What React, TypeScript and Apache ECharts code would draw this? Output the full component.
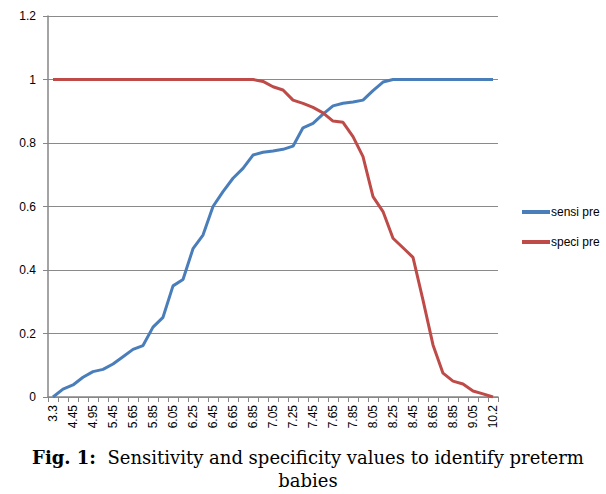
import React, { useEffect, useRef } from "react";
import * as echarts from "echarts";

const categories = [
  "3.3", "3.9", "4.45", "4.7", "4.95", "5.2", "5.45", "5.55", "5.65", "5.75",
  "5.85", "5.95", "6.05", "6.15", "6.25", "6.35", "6.45", "6.55", "6.65", "6.75",
  "6.85", "6.95", "7.05", "7.15", "7.25", "7.35", "7.45", "7.55", "7.65", "7.75",
  "7.85", "7.95", "8.05", "8.15", "8.25", "8.35", "8.45", "8.55", "8.65", "8.75",
  "8.85", "8.95", "9.05", "9.6", "10.2",
];

const sensiPre = [
  0, 0.025, 0.038, 0.062, 0.08, 0.087, 0.104, 0.127, 0.15, 0.162,
  0.22, 0.251, 0.35, 0.37, 0.467, 0.51, 0.6, 0.647, 0.689, 0.72,
  0.762, 0.771, 0.775, 0.78, 0.79, 0.848, 0.862, 0.891, 0.917, 0.925,
  0.929, 0.935, 0.965, 0.992, 1, 1, 1, 1, 1, 1,
  1, 1, 1, 1, 1,
];

const speciPre = [
  1, 1, 1, 1, 1, 1, 1, 1, 1, 1,
  1, 1, 1, 1, 1, 1, 1, 1, 1, 1,
  1, 0.994, 0.977, 0.967, 0.935, 0.925, 0.912, 0.895, 0.869, 0.865,
  0.82, 0.757, 0.631, 0.584, 0.5, 0.47, 0.44, 0.305, 0.164, 0.075,
  0.05, 0.041, 0.019, 0.01, 0,
];

const yTicks = [0, 0.2, 0.4, 0.6, 0.8, 1, 1.2];

export default function App() {
  const ref = useRef<HTMLDivElement>(null);
  useEffect(() => {
    if (!ref.current) return;
    const chart = echarts.init(ref.current, undefined, { renderer: "svg" });
    const axisColor = "#868686";
    chart.setOption({
      animation: false,
      backgroundColor: "#ffffff",
      title: {
        text: "{b|Fig. 1:}  Sensitivity and specificity values to identify preterm\nbabies",
        left: 308,
        top: 446,
        textAlign: "center",
        padding: 0,
        textStyle: {
          fontFamily: "DejaVu Serif",
          fontSize: 18,
          fontWeight: "normal",
          color: "#000",
          lineHeight: 23,
          rich: {
            b: { fontFamily: "DejaVu Serif", fontSize: 18, fontWeight: "bold", color: "#000", lineHeight: 23 },
          },
        },
      },
      legend: {
        orient: "vertical",
        left: 517,
        top: 201,
        itemWidth: 28,
        itemHeight: 4,
        itemGap: 18,
        icon: "rect",
        data: ["sensi pre", "speci pre"],
        textStyle: { fontFamily: "Liberation Sans Narrow, Liberation Sans", fontSize: 12, color: "#000", padding: [0, 0, 0, -4] },
      },
      grid: { left: 48, right: 108, top: 16, bottom: 97 },
      xAxis: {
        type: "category",
        data: categories,
        boundaryGap: true,
        axisLine: { lineStyle: { color: axisColor, width: 1.5 } },
        axisTick: { show: true, interval: 0, length: 5, lineStyle: { color: axisColor } },
        axisLabel: {
          interval: 1,
          rotate: 90,
          fontFamily: "Liberation Sans",
          fontSize: 12,
          color: "#000",
          margin: 8,
        },
      },
      yAxis: {
        type: "value",
        min: 0,
        max: 1.2,
        interval: 0.2,
        axisLine: { show: true, lineStyle: { color: axisColor, width: 1.5 } },
        axisTick: { show: true, length: 5, lineStyle: { color: axisColor } },
        splitLine: { lineStyle: { color: "#8a8a8a", width: 1 } },
        axisLabel: {
          fontFamily: "Liberation Sans",
          fontSize: 12,
          color: "#000",
          margin: 12,
          formatter: (v: number) => {
            const t = yTicks.find((x) => Math.abs(x - v) < 1e-9);
            return t === undefined ? "" : String(t);
          },
        },
      },
      series: [
        {
          name: "sensi pre",
          type: "line",
          data: sensiPre,
          symbol: "none",
          lineStyle: { color: "#4A7EBB", width: 3 },
          itemStyle: { color: "#4A7EBB" },
        },
        {
          name: "speci pre",
          type: "line",
          data: speciPre,
          symbol: "none",
          lineStyle: { color: "#BE4B48", width: 3 },
          itemStyle: { color: "#BE4B48" },
        },
      ],
    });
    return () => chart.dispose();
  }, []);
  return <div ref={ref} style={{ width: 606, height: 494, position: "absolute", left: 0, top: 0 }} />;
}
